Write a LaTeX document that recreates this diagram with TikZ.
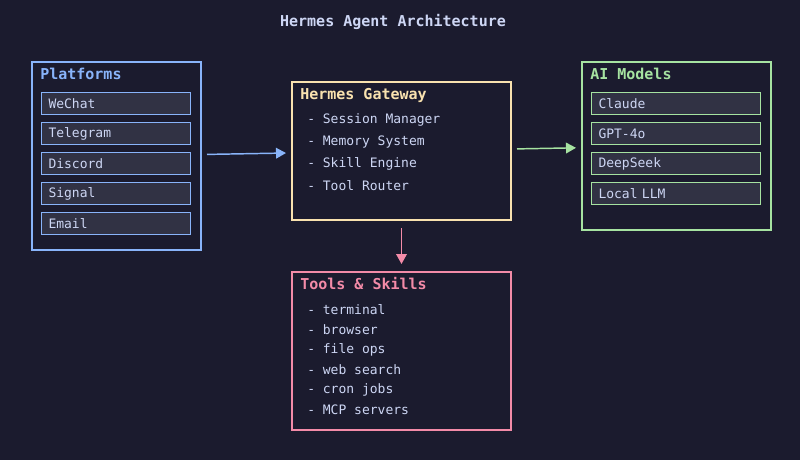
\documentclass[tikz,border=0pt]{standalone}
\usepackage{fontspec}
\setmonofont{DejaVu Sans Mono}
\usetikzlibrary{arrows.meta, positioning}
\definecolor{cbg}{HTML}{1B1B2E}
\definecolor{citem}{HTML}{313244}
\definecolor{ctext}{HTML}{CDD6F4}
\definecolor{cblue}{HTML}{89B4FA}
\definecolor{cyellow}{HTML}{F9E2AF}
\definecolor{cgreen}{HTML}{A6E3A1}
\definecolor{cpink}{HTML}{F38BA8}
\tikzset{
  every picture/.style={font=\ttfamily},
  group/.style={draw=#1, line width=1.5pt, anchor=north west, inner sep=0pt},
  item/.style={draw=#1, fill=citem, text=ctext, line width=0.75pt, anchor=north west, text width=101.25pt, inner xsep=5.25pt, inner ysep=0pt, minimum height=16.5pt, align=left, font=\ttfamily\fontsize{9.75}{11}\selectfont},
  head/.style={text=#1, anchor=west, inner sep=0pt, font=\ttfamily\bfseries\fontsize{11.25}{13}\selectfont},
  entry/.style={text=ctext, anchor=west, inner sep=0pt, font=\ttfamily\fontsize{9.75}{11}\selectfont},
  arrow/.style={-{Triangle[length=7.5pt, width=8pt]}, draw=#1, line width=1.1pt, shorten <=3.75pt, shorten >=3.75pt},
}
\begin{document}
\begin{tikzpicture}[x=0.75pt, y=-0.75pt]
  \fill[cbg] (0,0) rectangle (800,460);
  \node[head=ctext, anchor=center] (title) at (393,22) {Hermes Agent Architecture};
  % platforms
  \node[group=cblue, minimum width=126.75pt, minimum height=141pt] (plat) at (31,61) {};
  \node[head=cblue] (platT) at (40,74) {Platforms};
  \foreach \t [count=\i from 0] in {WeChat, Telegram, Discord, Signal, Email} {
    \node[item=cblue] (p\i) at (41,{92+30*\i}) {\t};
  }
  % gateway
  \node[group=cyellow, minimum width=164.25pt, minimum height=103.5pt] (gw) at (291,81) {};
  \node[head=cyellow] (gwT) at (300,95) {Hermes Gateway};
  \foreach \t [count=\i from 0] in {Session Manager, Memory System, Skill Engine, Tool Router} {
    \node[entry] (g\i) at (307,{120+22*\i}) {- \t};
  }
  % models
  \node[group=cgreen, minimum width=141.75pt, minimum height=126pt] (ai) at (581,61) {};
  \node[head=cgreen] (aiT) at (590,74) {AI Models};
  \foreach \t [count=\i from 0] in {Claude, GPT-4o, DeepSeek, Local LLM} {
    \node[item=cgreen, text width=116.25pt] (m\i) at (591,{92+30*\i}) {\t};
  }
  % tools
  \node[group=cpink, minimum width=164.25pt, minimum height=118.5pt] (tools) at (291,271) {};
  \node[head=cpink] (toolsT) at (300,284) {Tools \& Skills};
  \foreach \t [count=\i from 0] in {terminal, browser, file ops, web search, cron jobs, MCP servers} {
    \node[entry] (t\i) at (307,{310+20*\i}) {- \t};
  }
  \draw[arrow=cblue] (plat) -- (gw);
  \draw[arrow=cgreen] (gw) -- (ai);
  \draw[arrow=cpink, shorten <=5.25pt, shorten >=5.25pt] (gw) -- (tools);
\end{tikzpicture}
\end{document}
